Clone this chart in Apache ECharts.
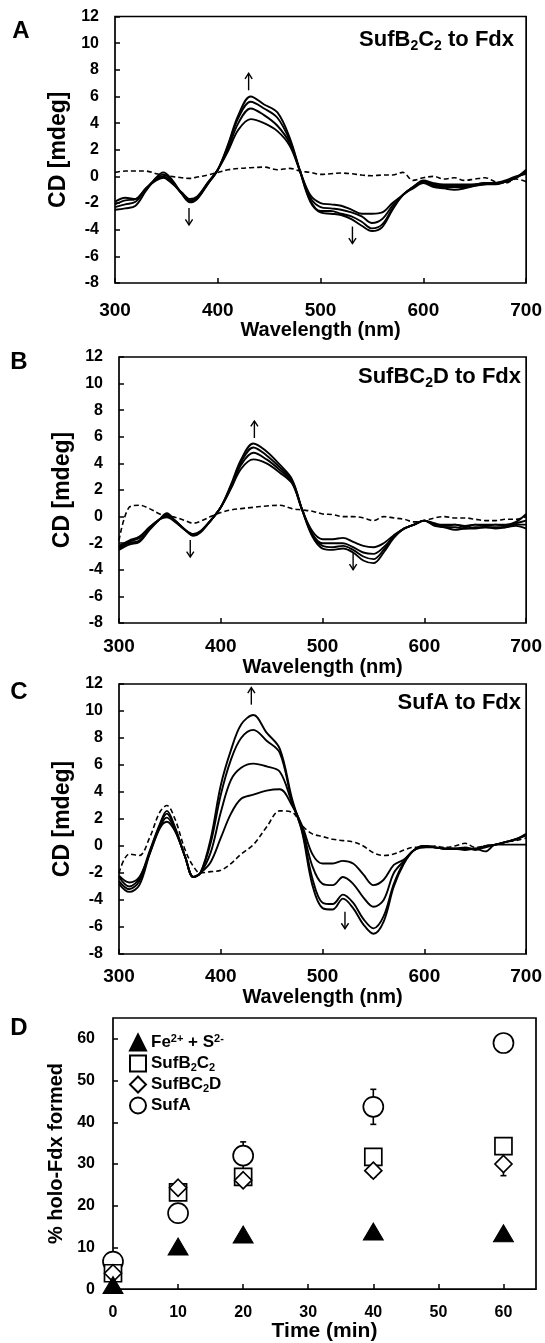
<!DOCTYPE html>
<html><head><meta charset="utf-8">
<script src="https://cdn.jsdelivr.net/npm/echarts@6/dist/echarts.min.js"></script>
<style>html,body{margin:0;padding:0;background:#fff}#c{width:545px;height:1343px}</style>
</head><body><div id="c"></div>
<script>
// ---------- DATA ----------
const wavelengths = [300,310,320,330,340,347,355,365,373,380,390,400,410,420,432,445,458,470,480,490,500,510,520,530,540,550,560,570,580,590,600,610,620,630,640,650,660,670,680,690,700];

// Panel A: SufB2C2 to Fdx
const a1 = [-2.5,-2.4,-2.2,-1.1,-0.1,0.3,-0.2,-1.3,-1.95,-1.7,-0.6,0.5,2.4,4.6,6.0,5.4,4.8,2.9,0.4,-1.9,-2.7,-2.8,-2.9,-3.2,-3.7,-4.1,-3.8,-2.5,-1.4,-0.9,-0.5,-0.8,-0.9,-1.0,-0.9,-0.7,-0.6,-0.6,-0.4,-0.1,0.4];
const a2 = [-2.3,-2.1,-1.9,-1.0,-0.2,0.15,-0.3,-1.3,-1.85,-1.65,-0.6,0.5,2.3,4.4,5.6,5.1,4.4,2.7,0.4,-1.8,-2.6,-2.6,-2.8,-3.0,-3.4,-3.9,-3.6,-2.4,-1.4,-0.8,-0.4,-0.7,-0.8,-0.8,-0.8,-0.7,-0.6,-0.5,-0.4,-0.1,0.3];
const a3 = [-2.1,-1.8,-1.7,-0.9,-0.2,0.0,-0.4,-1.3,-1.8,-1.6,-0.5,0.5,2.1,4.0,5.1,4.6,3.8,2.5,0.4,-1.6,-2.3,-2.4,-2.5,-2.7,-3.0,-3.5,-3.2,-2.2,-1.4,-0.8,-0.4,-0.6,-0.7,-0.7,-0.7,-0.6,-0.5,-0.5,-0.3,0.0,0.2];
const a4 = [-1.9,-1.6,-1.7,-0.9,-0.3,-0.1,-0.5,-1.2,-1.7,-1.5,-0.5,0.5,1.9,3.5,4.3,4.0,3.4,2.3,0.4,-1.4,-2.0,-2.1,-2.2,-2.5,-2.8,-2.8,-2.7,-2.0,-1.4,-0.8,-0.3,-0.5,-0.6,-0.6,-0.6,-0.6,-0.5,-0.5,-0.4,-0.1,0.5];
const aDash = [0.3,0.4,0.4,0.4,0.2,0.1,0.0,-0.1,-0.15,-0.05,0.1,0.3,0.5,0.6,0.65,0.7,0.5,0.6,0.4,0.3,0.15,0.2,0.25,0.2,0.1,0.05,0.1,0.1,0.3,-0.3,-0.1,0.0,-0.2,-0.1,-0.3,-0.2,-0.1,-0.4,-0.5,-0.2,-0.4];
const aArrows = [[430,7.1,1],[372,-3.0,-1],[531,-4.4,-1]];

// Panel B: SufBC2D to Fdx
const b1 = [-2.5,-2.1,-1.9,-1.0,-0.2,0.25,-0.3,-1.0,-1.45,-1.2,-0.3,0.7,2.4,4.3,5.5,4.9,3.9,2.8,0.5,-1.5,-2.4,-2.5,-2.4,-2.7,-3.3,-3.5,-2.7,-1.6,-0.9,-0.6,-0.3,-0.7,-0.8,-1.0,-0.9,-0.9,-0.8,-0.9,-0.8,-0.7,-0.9];
const b2 = [-2.4,-2.0,-1.8,-0.9,-0.2,0.15,-0.3,-1.0,-1.4,-1.15,-0.3,0.7,2.3,4.1,5.2,4.6,3.7,2.7,0.5,-1.4,-2.2,-2.3,-2.2,-2.5,-3.0,-3.2,-2.5,-1.5,-0.9,-0.6,-0.3,-0.6,-0.8,-0.8,-0.9,-0.8,-0.8,-0.8,-0.8,-0.6,-0.6];
const b3 = [-2.3,-1.9,-1.6,-0.8,-0.2,0.05,-0.3,-1.0,-1.35,-1.1,-0.3,0.7,2.2,3.9,4.8,4.3,3.5,2.6,0.5,-1.3,-2.0,-2.0,-2.0,-2.3,-2.7,-2.8,-2.3,-1.5,-0.9,-0.6,-0.3,-0.5,-0.7,-0.6,-0.8,-0.6,-0.7,-0.6,-0.7,-0.5,-0.3];
const b4 = [-2.2,-1.8,-1.5,-0.8,-0.2,-0.05,-0.4,-1.0,-1.3,-1.1,-0.3,0.7,2.1,3.6,4.3,4.0,3.3,2.5,0.5,-1.1,-1.7,-1.7,-1.6,-1.9,-2.2,-2.3,-2.0,-1.4,-0.9,-0.6,-0.3,-0.6,-0.6,-0.6,-0.7,-0.6,-0.6,-0.6,-0.6,-0.4,0.2];
const bDash = [-1.8,0.7,0.85,0.6,0.2,0.05,-0.05,-0.3,-0.5,-0.35,0.0,0.3,0.5,0.6,0.7,0.8,0.85,0.6,0.5,0.4,0.2,0.15,0.0,0.0,-0.1,-0.3,0.0,-0.1,-0.2,-0.4,-0.3,-0.1,0.0,-0.1,-0.1,-0.2,-0.3,-0.3,-0.2,-0.2,0.0];
const bArrows = [[433,6.55,1],[370,-2.4,-1],[530,-3.35,-1]];

// Panel C: SufA to Fdx
const c1 = [-2.3,-3.0,-2.4,-0.4,1.6,2.6,1.4,-0.8,-2.3,-2.0,0.5,4.5,7.1,9.0,9.7,8.4,7.2,3.5,1.0,-2.9,-4.6,-4.7,-3.9,-4.6,-5.8,-6.5,-5.6,-3.0,-1.3,-0.3,0.0,-0.1,-0.2,-0.2,-0.2,-0.2,-0.1,0.1,0.3,0.5,0.9];
const c2 = [-2.6,-3.2,-2.6,-0.5,1.5,2.4,1.3,-0.8,-2.3,-2.0,0.2,3.8,6.4,8.0,8.6,7.8,6.9,3.3,1.1,-2.4,-4.2,-4.3,-3.6,-4.2,-5.4,-6.1,-5.2,-2.8,-1.2,-0.3,0.0,-0.1,-0.2,-0.2,-0.2,-0.2,0.0,0.1,0.3,0.5,0.8];
const c3 = [-2.8,-3.4,-2.9,-0.6,1.4,2.1,1.2,-0.8,-2.3,-2.0,-0.5,2.5,4.9,5.8,6.1,5.9,5.5,3.2,1.3,-1.5,-2.8,-2.9,-2.3,-2.8,-3.8,-4.5,-4.0,-2.0,-1.1,-0.3,0.0,-0.1,-0.2,-0.2,-0.1,-0.3,0.0,0.1,0.3,0.5,0.8];
const c4 = [-2.2,-2.7,-2.3,-0.6,1.3,1.8,1.1,-0.8,-2.3,-2.0,-1.2,0.6,2.4,3.5,3.8,4.1,4.2,3.0,1.5,-0.6,-1.3,-1.3,-1.1,-1.3,-2.1,-2.9,-2.5,-1.4,-1.0,-0.3,-0.1,-0.1,-0.2,-0.2,-0.3,-0.2,-0.4,0.1,0.1,0.1,0.1];
const cDash = [-2.0,-0.6,-0.7,0.6,2.5,3.0,2.0,-0.3,-1.5,-2.0,-1.9,-1.8,-1.3,-0.6,0.1,1.4,2.6,2.5,1.5,0.9,0.7,0.5,0.4,0.3,0.0,-0.5,-0.7,-0.6,-0.3,-0.1,-0.1,0.0,-0.1,0.0,0.2,-0.1,0.0,0.1,0.3,0.4,0.6];
const cArrows = [[430,11.1,1],[522,-5.5,-1]];

// Panel D: % holo-Fdx formed vs time
const times = [0,10,20,40,60];
const feS = [1.0,10.2,13.1,13.8,13.4];
const sufB2C2 = [3.8,23.2,26.9,31.7,34.3];
const sufBC2D = [3.8,24.3,26.1,28.4,30.0];
const sufA = [6.6,18.2,32.0,43.7,59.0];
const sufAErr = [0,0,3.3,4.2,0];
const sufBC2DErr = [0,0,0,1.5,2.8];

const cdTicks = {min:-8, max:12, interval:2};
const wlTicks = {min:300, max:700, interval:100};

// ---------- BUILD ----------
const FONT = "'Liberation Sans', Arial, sans-serif";
const pairs = ys => wavelengths.map((w,i)=>[w, ys[i]]);

const grids = [
  {left:115, top:16.5, width:412, height:266.5},
  {left:119, top:357, width:408, height:266},
  {left:119, top:684, width:408, height:270},
  {left:113, top:1018, width:423, height:274}
];
grids.forEach(g=>{g.show=true; g.borderColor='#000'; g.borderWidth=1.7; g.backgroundColor='transparent'; g.containLabel=false;});

const xLabelMargins = [18, 14.5, 13.5];
const xNameGaps = [37, 29, 26];
const yNameGaps = [31, 33, 33];
const tickStyle = {show:true, inside:true, length:5, lineStyle:{color:'#000', width:1.5}};

const xAxes = [], yAxes = [];
for (let k=0;k<3;k++){
  xAxes.push({gridIndex:k, type:'value', min:wlTicks.min, max:wlTicks.max, interval:wlTicks.interval,
    name:'Wavelength (nm)', nameLocation:'middle', nameGap:xNameGaps[k],
    nameTextStyle:{fontFamily:FONT, fontWeight:'bold', fontSize:20, color:'#000'},
    axisLine:{show:false, onZero:false}, splitLine:{show:false},
    axisTick:tickStyle, z:4,
    axisLabel:{fontFamily:FONT, fontWeight:'bold', fontSize:19, color:'#000', margin:xLabelMargins[k]}});
  yAxes.push({gridIndex:k, type:'value', min:cdTicks.min, max:cdTicks.max, interval:cdTicks.interval,
    name:'CD [mdeg]', nameLocation:'middle', nameGap:yNameGaps[k],
    nameTextStyle:{fontFamily:FONT, fontWeight:'bold', fontSize:23, color:'#000'},
    axisLine:{show:false, onZero:false}, splitLine:{show:false},
    axisTick:tickStyle, z:4,
    axisLabel:{fontFamily:FONT, fontWeight:'bold', fontSize:16, color:'#000', margin:16}});
}
xAxes.push({gridIndex:3, type:'value', min:0, max:65, interval:10,
  name:'Time (min)', nameLocation:'middle', nameGap:29.5,
  nameTextStyle:{fontFamily:FONT, fontWeight:'bold', fontSize:21, color:'#000'},
  axisLine:{show:false, onZero:false}, splitLine:{show:false},
  axisTick:tickStyle, z:4,
  axisLabel:{fontFamily:FONT, fontWeight:'bold', fontSize:16, color:'#000', margin:15, showMaxLabel:false,
    formatter:v=> (v%10===0? String(v):'')}});
yAxes.push({gridIndex:3, type:'value', min:0, max:65, interval:10,
  name:'% holo-Fdx formed', nameLocation:'middle', nameGap:37,
  nameTextStyle:{fontFamily:FONT, fontWeight:'bold', fontSize:20, color:'#000'},
  axisLine:{show:false, onZero:false}, splitLine:{show:false},
  axisTick:tickStyle, z:4,
  axisLabel:{fontFamily:FONT, fontWeight:'bold', fontSize:16, color:'#000', margin:18, showMaxLabel:false,
    formatter:v=> (v%10===0? String(v):'')}});

const series = [];
function curve(k, ys, dashed){
  series.push({type:'line', xAxisIndex:k, yAxisIndex:k, data:pairs(ys), smooth:0.35, symbol:'none',
    lineStyle:{color:'#000', width: dashed?1.6:1.9, type: dashed?[5,3]:'solid'}, silent:true, z:3});
}
function arrows(k, arr){
  series.push({type:'custom', xAxisIndex:k, yAxisIndex:k, data:arr, silent:true, z:5, clip:false,
    renderItem:(params, api)=>{
      const p = api.coord([api.value(0), api.value(1)]);
      const dir = api.value(2);
      const L = 17, hw = 3.6, hh = 5.5;
      const tipY = p[1] - dir*L/2, tailY = p[1] + dir*L/2;
      const st = {stroke:'#000', lineWidth:1.4, fill:null};
      return {type:'group', children:[
        {type:'line', shape:{x1:p[0], y1:tailY, x2:p[0], y2:tipY}, style:st},
        {type:'polyline', shape:{points:[[p[0]-hw, tipY+dir*hh],[p[0], tipY],[p[0]+hw, tipY+dir*hh]]}, style:st}
      ]};
    }});
}
[[a1,a2,a3,a4,aDash,aArrows],[b1,b2,b3,b4,bDash,bArrows],[c1,c2,c3,c4,cDash,cArrows]].forEach((set,k)=>{
  curve(k,set[4],true);
  for (let i=0;i<4;i++) curve(k,set[i],false);
  arrows(k,set[5]);
});

// Panel D error bars
function errBars(vals, errs){
  const d = [];
  times.forEach((t,i)=>{ if (errs[i]>0) d.push([t, vals[i]-errs[i], vals[i]+errs[i]]); });
  series.push({type:'custom', xAxisIndex:3, yAxisIndex:3, data:d, silent:true, z:2,
    renderItem:(params, api)=>{
      const lo = api.coord([api.value(0), api.value(1)]);
      const hi = api.coord([api.value(0), api.value(2)]);
      const st = {stroke:'#000', lineWidth:1.6};
      return {type:'group', children:[
        {type:'line', shape:{x1:lo[0], y1:lo[1], x2:hi[0], y2:hi[1]}, style:st},
        {type:'line', shape:{x1:lo[0]-3, y1:lo[1], x2:lo[0]+3, y2:lo[1]}, style:st},
        {type:'line', shape:{x1:hi[0]-3, y1:hi[1], x2:hi[0]+3, y2:hi[1]}, style:st}
      ]};
    }});
}
errBars(sufA, sufAErr);
errBars(sufBC2D, sufBC2DErr);

const pts = vals => times.map((t,i)=>[t, vals[i]]);
const hollow = {color:'#fff', borderColor:'#000', borderWidth:1.7, opacity:1};
series.push({name:'SufA', type:'scatter', xAxisIndex:3, yAxisIndex:3, data:pts(sufA), symbol:'circle', symbolSize:20, itemStyle:hollow, z:3, clip:false});
series.push({name:'SufB2C2', type:'scatter', xAxisIndex:3, yAxisIndex:3, data:pts(sufB2C2), symbol:'rect', symbolSize:17, itemStyle:hollow, z:4, clip:false});
series.push({name:'SufBC2D', type:'scatter', xAxisIndex:3, yAxisIndex:3, data:pts(sufBC2D), symbol:'diamond', symbolSize:[17,17], itemStyle:hollow, z:5, clip:false});
series.push({name:'Fe', type:'scatter', xAxisIndex:3, yAxisIndex:3, data:pts(feS), symbol:'triangle', symbolSize:[20,17], itemStyle:{color:'#000', borderColor:'#000', borderWidth:1, opacity:1}, z:6, clip:false});

const legendNames = {
  'Fe':'Fe{p|2+} + S{p|2-}',
  'SufB2C2':'SufB{s|2}C{s|2}',
  'SufBC2D':'SufBC{s|2}D',
  'SufA':'SufA'
};
const richLegend = {
  p:{fontFamily:FONT, fontWeight:'bold', fontSize:11, lineHeight:10, verticalAlign:'top', color:'#000'},
  s:{fontFamily:FONT, fontWeight:'bold', fontSize:11, lineHeight:10, verticalAlign:'bottom', color:'#000'}
};
const richTitle = {
  n:{fontFamily:FONT, fontWeight:'bold', fontSize:22, lineHeight:26, color:'#000'},
  s:{fontFamily:FONT, fontWeight:'bold', fontSize:14, lineHeight:14, verticalAlign:'bottom', color:'#000'}
};

const option = {
  backgroundColor:'#fff',
  animation:false,
  grid:grids, xAxis:xAxes, yAxis:yAxes, series:series,
  legend:{show:true, orient:'vertical', left:124, top:1028, itemWidth:16, itemHeight:16, itemGap:2,
    data:['Fe','SufB2C2','SufBC2D','SufA'], selectedMode:false,
    formatter:n=>legendNames[n],
    textStyle:{fontFamily:FONT, fontWeight:'bold', fontSize:17, lineHeight:19, color:'#000', rich:richLegend}},
  title:[
    {text:'{n|SufB}{s|2}{n|C}{s|2}{n| to Fdx}', right:31, top:27, padding:0, textStyle:{rich:richTitle}},
    {text:'{n|SufBC}{s|2}{n|D to Fdx}', right:24, top:364, padding:0, textStyle:{rich:richTitle}},
    {text:'{n|SufA to Fdx}', right:24, top:690, padding:0, textStyle:{rich:richTitle}}
  ],
  graphic:[
    {type:'text', x:21, y:31, style:{text:'A', font:'bold 24px '+FONT, fill:'#000', textAlign:'center', textVerticalAlign:'middle', verticalAlign:'middle'}},
    {type:'text', x:19, y:362, style:{text:'B', font:'bold 24px '+FONT, fill:'#000', textAlign:'center', textVerticalAlign:'middle', verticalAlign:'middle'}},
    {type:'text', x:19, y:692, style:{text:'C', font:'bold 24px '+FONT, fill:'#000', textAlign:'center', textVerticalAlign:'middle', verticalAlign:'middle'}},
    {type:'text', x:19, y:1028, style:{text:'D', font:'bold 24px '+FONT, fill:'#000', textAlign:'center', textVerticalAlign:'middle', verticalAlign:'middle'}}
  ]
};
const chart = echarts.init(document.getElementById('c'), null, {renderer:'canvas'});
chart.setOption(option);
</script></body></html>
